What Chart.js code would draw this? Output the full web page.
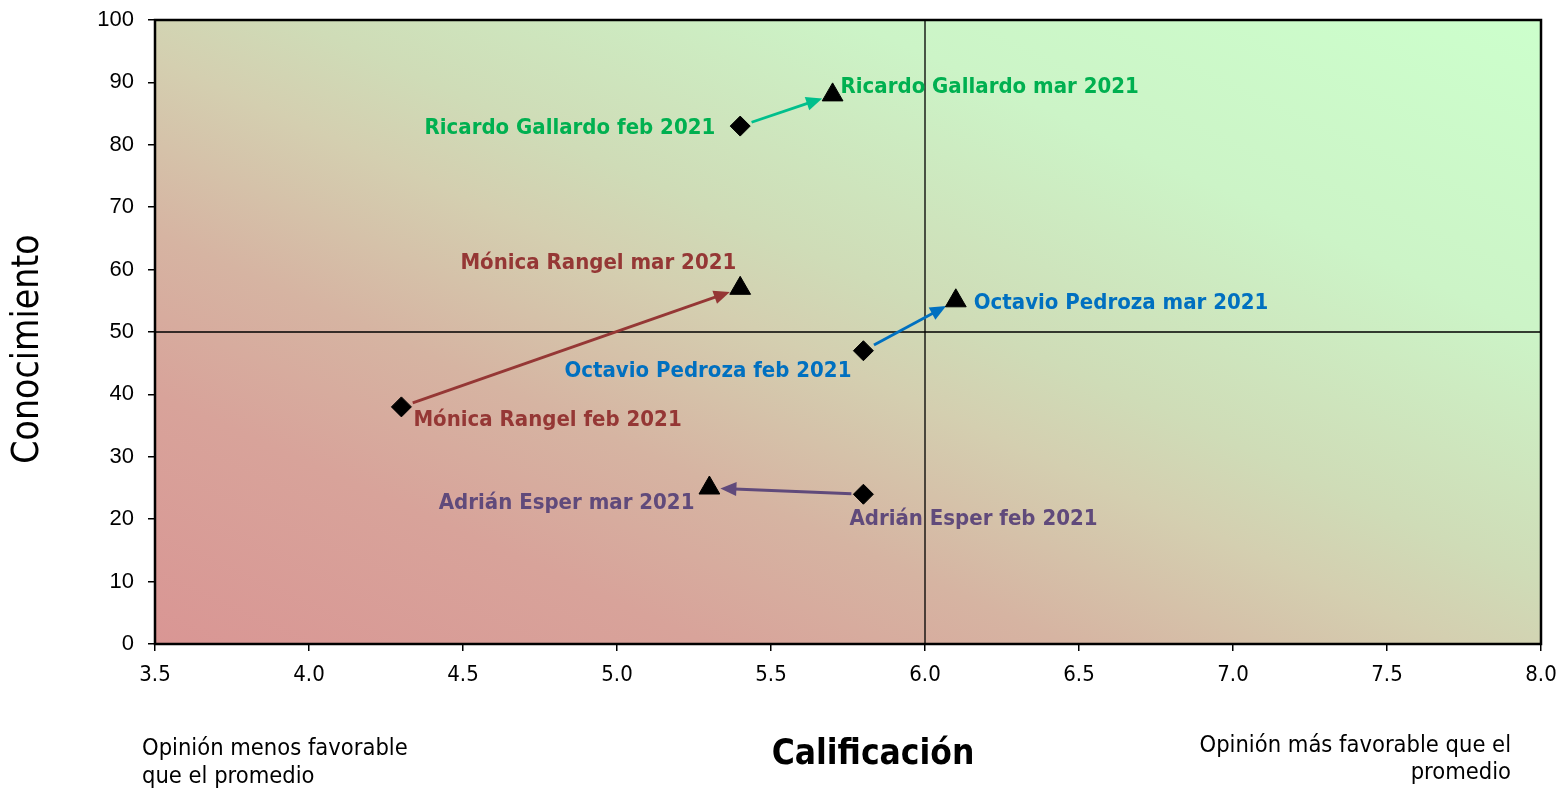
<!DOCTYPE html>
<html>
<head>
<meta charset="utf-8">
<script src="https://cdn.jsdelivr.net/npm/chart.js@4.4.1/dist/chart.umd.min.js"></script>
<style>
  html, body { margin: 0; padding: 0; background: #ffffff; }
  #wrap { width: 1562px; height: 788px; position: relative; }
</style>
</head>
<body>
<div id="wrap"><canvas id="mapChart" width="1562" height="788"></canvas></div>
<script>
const candidates = ["Ricardo Gallardo", "Mónica Rangel", "Octavio Pedroza", "Adrián Esper"];
const febCalif = [5.4, 4.3, 5.8, 5.8];
const febConoc = [83, 38, 47, 24];
const marCalif = [5.7, 5.4, 6.1, 5.3];
const marConoc = [88, 57, 55, 25];
const xTicks = [3.5, 4.0, 4.5, 5.0, 5.5, 6.0, 6.5, 7.0, 7.5, 8.0];
const yTicks = [0, 10, 20, 30, 40, 50, 60, 70, 80, 90, 100];
const midCalif = 6.0;
const midConoc = 50;

const labelColors = ["#00b050", "#953735", "#0070c0", "#604a7b"];
const arrowColors = ["#00bf8c", "#953735", "#0070c0", "#604a7b"];

// where each label sits relative to its point (pixels)
const febLabelPos = [
    { dx: -25, dy: 2, align: "right" },
    { dx: 12, dy: 13, align: "left" },
    { dx: -12, dy: 21, align: "right" },
    { dx: -14, dy: 25, align: "left" }
];
const marLabelPos = [
    { dx: 8, dy: -8, align: "left" },
    { dx: -4, dy: -25, align: "right" },
    { dx: 18, dy: 2, align: "left" },
    { dx: -15, dy: 15, align: "right" }
];

const uiFont = "Tahoma, 'DejaVu Sans Condensed', 'DejaVu Sans', sans-serif";

// red (low) to green (high) shading of the plot area
const bgStops = [
    [0, "rgb(217,150,148)"],
    [0.2, "rgb(216,163,154)"],
    [0.33, "rgb(214,180,162)"],
    [0.47, "rgb(212,207,176)"],
    [0.55, "rgb(207,220,183)"],
    [0.75, "rgb(204,244,199)"],
    [1, "rgb(204,255,204)"]
];

const backgroundPlugin = {
    id: "quadBackground",
    beforeDraw(chart) {
        const { ctx, chartArea: a } = chart;
        const w = a.right - a.left, h = a.bottom - a.top;
        const cx = (a.left + a.right) / 2, cy = (a.top + a.bottom) / 2;
        const len = Math.sqrt(w * w + h * h);
        const ux = h / len, uy = -w / len;
        const d = w * h / len;
        const g = ctx.createLinearGradient(cx - d * ux, cy - d * uy, cx + d * ux, cy + d * uy);
        bgStops.forEach(s => g.addColorStop(s[0], s[1]));
        ctx.save();
        ctx.fillStyle = g;
        ctx.fillRect(a.left, a.top, w, h);
        ctx.restore();
    }
};

function drawArrow(ctx, x1, y1, x2, y2, color) {
    const ang = Math.atan2(y2 - y1, x2 - x1);
    const sx = x1 + Math.cos(ang) * 12, sy = y1 + Math.sin(ang) * 12;
    const ex = x2 - Math.cos(ang) * 11, ey = y2 - Math.sin(ang) * 11;
    const headLen = 16, headW = 7;
    const bx = ex - Math.cos(ang) * headLen, by = ey - Math.sin(ang) * headLen;
    ctx.strokeStyle = color;
    ctx.fillStyle = color;
    ctx.lineWidth = 2.8;
    ctx.beginPath();
    ctx.moveTo(sx, sy);
    ctx.lineTo(bx + Math.cos(ang) * 2, by + Math.sin(ang) * 2);
    ctx.stroke();
    ctx.beginPath();
    ctx.moveTo(ex, ey);
    ctx.lineTo(bx - Math.sin(ang) * headW, by + Math.cos(ang) * headW);
    ctx.lineTo(bx + Math.sin(ang) * headW, by - Math.cos(ang) * headW);
    ctx.closePath();
    ctx.fill();
}

const overlayPlugin = {
    id: "overlay",
    beforeDatasetsDraw(chart) {
        const { ctx, chartArea: a, scales } = chart;
        const xs = scales.x, ys = scales.y;
        ctx.save();
        // quadrant lines
        ctx.strokeStyle = "#000000";
        ctx.lineWidth = 1.3;
        const mx = xs.getPixelForValue(midCalif);
        const my = ys.getPixelForValue(midConoc);
        ctx.beginPath();
        ctx.moveTo(mx, a.top); ctx.lineTo(mx, a.bottom);
        ctx.moveTo(a.left, my); ctx.lineTo(a.right, my);
        ctx.stroke();
        // arrows
        candidates.forEach((n, i) => {
            drawArrow(ctx,
                xs.getPixelForValue(febCalif[i]), ys.getPixelForValue(febConoc[i]),
                xs.getPixelForValue(marCalif[i]), ys.getPixelForValue(marConoc[i]),
                arrowColors[i]);
        });
        // frame
        ctx.strokeStyle = "#000000";
        ctx.lineWidth = 2.5;
        ctx.strokeRect(a.left, a.top, a.right - a.left, a.bottom - a.top);
        ctx.restore();
    },
    afterDatasetsDraw(chart) {
        const { ctx, scales } = chart;
        const xs = scales.x, ys = scales.y;
        ctx.save();
        ctx.font = "bold 22px " + uiFont;
        ctx.textBaseline = "middle";
        candidates.forEach((n, i) => {
            ctx.fillStyle = labelColors[i];
            let p = febLabelPos[i];
            ctx.textAlign = p.align;
            ctx.fillText(n + " feb 2021", xs.getPixelForValue(febCalif[i]) + p.dx, ys.getPixelForValue(febConoc[i]) + p.dy);
            p = marLabelPos[i];
            ctx.textAlign = p.align;
            ctx.fillText(n + " mar 2021", xs.getPixelForValue(marCalif[i]) + p.dx, ys.getPixelForValue(marConoc[i]) + p.dy);
        });
        ctx.restore();
    },
    afterDraw(chart) {
        const { ctx } = chart;
        ctx.save();
        ctx.fillStyle = "#000000";
        ctx.textBaseline = "middle";
        // y title
        ctx.save();
        ctx.translate(28, 349);
        ctx.rotate(-Math.PI / 2);
        ctx.textAlign = "center";
        ctx.font = "37px " + uiFont;
        ctx.fillText("Conocimiento", 0, 0);
        ctx.restore();
        // x title
        ctx.textAlign = "center";
        ctx.font = "bold 35px " + uiFont;
        ctx.fillText("Calificación", 873, 755);
        // side notes
        ctx.font = "23.5px " + uiFont;
        ctx.textAlign = "left";
        ctx.fillText("Opinión menos favorable", 142, 749);
        ctx.fillText("que el promedio", 142, 777);
        ctx.textAlign = "right";
        ctx.fillText("Opinión más favorable que el", 1511, 746);
        ctx.fillText("promedio", 1511, 773);
        ctx.restore();
    }
};

const ctx = document.getElementById("mapChart").getContext("2d");
new Chart(ctx, {
    type: "scatter",
    data: {
        datasets: [
            {
                label: "feb 2021",
                data: febCalif.map((v, i) => ({ x: v, y: febConoc[i] })),
                pointStyle: "rectRot",
                pointRadius: 10,
                pointHoverRadius: 10,
                backgroundColor: "#000000",
                borderColor: "#000000",
                borderWidth: 1
            },
            {
                label: "mar 2021",
                data: marCalif.map((v, i) => ({ x: v, y: marConoc[i] })),
                pointStyle: "triangle",
                pointRadius: 12,
                pointHoverRadius: 12,
                backgroundColor: "#000000",
                borderColor: "#000000",
                borderWidth: 1
            }
        ]
    },
    options: {
        responsive: false,
        animation: false,
        devicePixelRatio: 1,
        layout: { padding: { top: 20, right: 21, left: 0, bottom: 0 } },
        plugins: {
            legend: { display: false },
            tooltip: { enabled: false }
        },
        scales: {
            x: {
                type: "linear",
                min: xTicks[0],
                max: xTicks[xTicks.length - 1],
                afterBuildTicks: (s) => { s.ticks = xTicks.map(v => ({ value: v })); },
                afterFit: (s) => { s.height = 144; s.paddingLeft = 0; s.paddingRight = 0; },
                border: { display: false },
                grid: { drawOnChartArea: false, drawTicks: true, tickLength: 7, color: "#000000", lineWidth: 1.5 },
                ticks: {
                    color: "#000000",
                    padding: 11,
                    maxRotation: 0,
                    font: { family: uiFont, size: 22 },
                    callback: (v) => Number(v).toFixed(1)
                }
            },
            y: {
                type: "linear",
                min: yTicks[0],
                max: yTicks[yTicks.length - 1],
                afterBuildTicks: (s) => { s.ticks = yTicks.map(v => ({ value: v })); },
                afterFit: (s) => { s.width = 155; s.paddingTop = 0; s.paddingBottom = 0; },
                border: { display: false },
                grid: { drawOnChartArea: false, drawTicks: true, tickLength: 7, color: "#000000", lineWidth: 1.5 },
                ticks: {
                    color: "#000000",
                    padding: 14,
                    font: { family: "'Liberation Sans', Arial, sans-serif", size: 22 }
                }
            }
        }
    },
    plugins: [backgroundPlugin, overlayPlugin]
});
</script>
</body>
</html>
